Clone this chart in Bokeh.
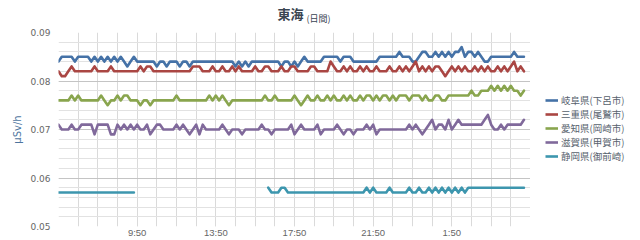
import numpy as np
from bokeh.plotting import figure
from bokeh.layouts import row
from bokeh.models import Legend, LegendItem, FixedTicker, Range1d, PrintfTickFormatter, Title
from bokeh.embed import file_html
from bokeh.resources import INLINE

nan = float("nan")

# Titles and axis texts
title_main = "東海"
title_sub = "(日間)"
y_title = "μSv/h"

# Time axis: readings every 10 minutes starting at 5:50
start_time = "5:50"
step_minutes = 10
span_hours = 24
tick_labels = ["9:50", "13:50", "17:50", "21:50", "1:50"]
y_ticks = [0.05, 0.06, 0.07, 0.08, 0.09]

stations = ["岐阜県(下呂市)", "三重県(尾鷲市)", "愛知県(岡崎市)", "滋賀県(甲賀市)", "静岡県(御前崎)"]

# Dose rates in μSv/h
gifu = [
    0.084, 0.085, 0.085, 0.085, 0.085, 0.084, 0.085, 0.085, 0.085, 0.085,
    0.084, 0.085, 0.084, 0.085, 0.084, 0.085, 0.084, 0.085, 0.084, 0.085,
    0.084, 0.083, 0.084, 0.085, 0.084, 0.084, 0.084, 0.084, 0.084, 0.084,
    0.083, 0.084, 0.084, 0.083, 0.084, 0.084, 0.084, 0.083, 0.084, 0.084,
    0.083, 0.084, 0.084, 0.084, 0.084, 0.084, 0.084, 0.084, 0.084, 0.084,
    0.084, 0.084, 0.084, 0.084, 0.083, 0.084, 0.083, 0.084, 0.083, 0.084,
    0.084, 0.084, 0.084, 0.084, 0.084, 0.084, 0.084, 0.084, 0.083, 0.084,
    0.084, 0.083, 0.084, 0.083, 0.084, 0.085, 0.084, 0.084, 0.084, 0.084,
    0.084, 0.085, 0.085, 0.085, 0.085, 0.085, 0.084, 0.085, 0.085, 0.085,
    0.084, 0.084, 0.084, 0.084, 0.084, 0.084, 0.084, 0.084, 0.085, 0.085,
    0.085, 0.085, 0.085, 0.085, 0.086, 0.085, 0.085, 0.085, 0.084, 0.084,
    0.085, 0.086, 0.086, 0.085, 0.085, 0.086, 0.085, 0.086, 0.085, 0.086,
    0.085, 0.086, 0.086, 0.087, 0.085, 0.086, 0.086, 0.085, 0.086, 0.085,
    0.084, 0.084, 0.085, 0.085, 0.085, 0.085, 0.085, 0.085, 0.085, 0.086,
    0.085, 0.085, 0.085,
]
mie = [
    0.082, 0.081, 0.081, 0.082, 0.083, 0.082, 0.082, 0.082, 0.082, 0.082,
    0.082, 0.083, 0.082, 0.082, 0.082, 0.082, 0.083, 0.082, 0.082, 0.082,
    0.082, 0.082, 0.082, 0.082, 0.082, 0.083, 0.082, 0.083, 0.083, 0.082,
    0.082, 0.082, 0.082, 0.082, 0.082, 0.082, 0.082, 0.082, 0.082, 0.082,
    0.082, 0.083, 0.083, 0.083, 0.082, 0.082, 0.082, 0.083, 0.082, 0.082,
    0.083, 0.082, 0.082, 0.083, 0.082, 0.083, 0.082, 0.082, 0.082, 0.082,
    0.083, 0.082, 0.082, 0.083, 0.083, 0.082, 0.082, 0.082, 0.083, 0.082,
    0.082, 0.083, 0.083, 0.082, 0.082, 0.082, 0.082, 0.083, 0.083, 0.082,
    0.082, 0.082, 0.082, 0.084, 0.083, 0.082, 0.082, 0.083, 0.082, 0.083,
    0.082, 0.082, 0.083, 0.082, 0.083, 0.082, 0.082, 0.083, 0.082, 0.082,
    0.082, 0.083, 0.082, 0.082, 0.083, 0.082, 0.083, 0.082, 0.083, 0.084,
    0.082, 0.083, 0.082, 0.083, 0.082, 0.083, 0.083, 0.082, 0.081, 0.082,
    0.083, 0.082, 0.083, 0.082, 0.083, 0.082, 0.082, 0.083, 0.082, 0.083,
    0.082, 0.083, 0.082, 0.082, 0.083, 0.082, 0.083, 0.082, 0.083, 0.084,
    0.082, 0.083, 0.082,
]
aichi = [
    0.076, 0.076, 0.076, 0.076, 0.077, 0.076, 0.077, 0.076, 0.076, 0.076,
    0.076, 0.076, 0.076, 0.077, 0.076, 0.075, 0.076, 0.076, 0.077, 0.076,
    0.077, 0.077, 0.076, 0.076, 0.076, 0.075, 0.076, 0.076, 0.075, 0.076,
    0.076, 0.076, 0.076, 0.076, 0.076, 0.076, 0.077, 0.076, 0.076, 0.076,
    0.076, 0.076, 0.076, 0.076, 0.076, 0.076, 0.077, 0.076, 0.077, 0.076,
    0.077, 0.076, 0.075, 0.076, 0.076, 0.076, 0.076, 0.076, 0.076, 0.076,
    0.076, 0.076, 0.076, 0.077, 0.076, 0.076, 0.077, 0.076, 0.076, 0.076,
    0.076, 0.076, 0.077, 0.076, 0.075, 0.076, 0.077, 0.076, 0.076, 0.077,
    0.076, 0.076, 0.077, 0.076, 0.077, 0.076, 0.076, 0.077, 0.076, 0.077,
    0.076, 0.076, 0.077, 0.076, 0.077, 0.077, 0.076, 0.077, 0.076, 0.077,
    0.077, 0.076, 0.077, 0.076, 0.077, 0.077, 0.077, 0.076, 0.077, 0.077,
    0.077, 0.076, 0.077, 0.076, 0.076, 0.077, 0.077, 0.076, 0.076, 0.077,
    0.077, 0.077, 0.077, 0.077, 0.077, 0.077, 0.078, 0.077, 0.077, 0.078,
    0.078, 0.078, 0.079, 0.078, 0.079, 0.078, 0.079, 0.078, 0.079, 0.078,
    0.078, 0.077, 0.078,
]
shiga = [
    0.071, 0.070, 0.070, 0.070, 0.071, 0.070, 0.070, 0.071, 0.071, 0.071,
    0.071, 0.069, 0.071, 0.071, 0.071, 0.071, 0.069, 0.069, 0.071, 0.070,
    0.071, 0.070, 0.071, 0.070, 0.071, 0.070, 0.070, 0.071, 0.069, 0.070,
    0.071, 0.071, 0.070, 0.070, 0.070, 0.070, 0.071, 0.070, 0.071, 0.070,
    0.069, 0.070, 0.071, 0.069, 0.071, 0.070, 0.070, 0.070, 0.070, 0.070,
    0.071, 0.070, 0.069, 0.070, 0.070, 0.070, 0.069, 0.070, 0.070, 0.070,
    0.070, 0.070, 0.071, 0.070, 0.070, 0.069, 0.070, 0.070, 0.070, 0.070,
    0.070, 0.071, 0.069, 0.070, 0.071, 0.070, 0.070, 0.070, 0.070, 0.071,
    0.069, 0.070, 0.070, 0.070, 0.070, 0.071, 0.070, 0.069, 0.070, 0.070,
    0.069, 0.070, 0.070, 0.070, 0.071, 0.070, 0.071, 0.069, 0.070, 0.070,
    0.070, 0.070, 0.070, 0.070, 0.070, 0.070, 0.070, 0.071, 0.070, 0.071,
    0.070, 0.069, 0.070, 0.071, 0.072, 0.070, 0.071, 0.071, 0.070, 0.072,
    0.070, 0.071, 0.072, 0.071, 0.071, 0.071, 0.071, 0.071, 0.071, 0.071,
    0.072, 0.073, 0.071, 0.070, 0.070, 0.071, 0.070, 0.071, 0.071, 0.071,
    0.071, 0.071, 0.072,
]
shizuoka = [
    0.057, 0.057, 0.057, 0.057, 0.057, 0.057, 0.057, 0.057, 0.057, 0.057,
    0.057, 0.057, 0.057, 0.057, 0.057, 0.057, 0.057, 0.057, 0.057, 0.057,
    0.057, 0.057, 0.057, 0.057, nan, nan, nan, nan, nan, nan,
    nan, nan, nan, nan, nan, nan, nan, nan, nan, nan,
    nan, nan, nan, nan, nan, nan, nan, nan, nan, nan,
    nan, nan, nan, nan, nan, nan, nan, nan, nan, nan,
    nan, nan, nan, nan, 0.058, 0.057, 0.057, 0.057, 0.058, 0.058,
    0.057, 0.057, 0.057, 0.057, 0.057, 0.057, 0.057, 0.057, 0.057, 0.057,
    0.057, 0.057, 0.057, 0.057, 0.057, 0.057, 0.057, 0.057, 0.057, 0.057,
    0.057, 0.057, 0.057, 0.057, 0.058, 0.057, 0.058, 0.057, 0.057, 0.057,
    0.057, 0.058, 0.057, 0.057, 0.057, 0.057, 0.057, 0.058, 0.057, 0.057,
    0.058, 0.057, 0.057, 0.058, 0.057, 0.058, 0.057, 0.058, 0.057, 0.058,
    0.057, 0.058, 0.057, 0.058, 0.057, 0.058, 0.058, 0.058, 0.058, 0.058,
    0.058, 0.058, 0.058, 0.058, 0.058, 0.058, 0.058, 0.058, 0.058, 0.058,
    0.058, 0.058, 0.058,
]

series = [gifu, mie, aichi, shiga, shizuoka]
colors = ["#4572A7", "#AA4643", "#89A54E", "#80699B", "#3D96AE"]

CJK = "Noto Sans CJK JP"
LATIN = "DejaVu Sans"
TITLE_COLOR = "#3a4552"

W, H = 640, 240
RIGHT = 110


def minutes(label):
    h, m = label.split(":")
    return int(h) * 60 + int(m)


def hours_after_start(label):
    return ((minutes(label) - minutes(start_time)) % 1440) / 60


tick_pos = [hours_after_start(s) for s in tick_labels]

# ---- main chart ----
p = figure(
    width=W - RIGHT, height=H, title=None,
    output_backend="svg", toolbar_location=None,
    x_range=Range1d(0, span_hours), y_range=Range1d(y_ticks[0], y_ticks[-1]),
    min_border_left=58, min_border_right=0, min_border_top=32, min_border_bottom=11,
    background_fill_color="white", border_fill_color="white",
)
p.outline_line_color = None

# Title on one line: both parts take no height of their own (large negative
# standoff), so they share the 32px top border and are lifted into place.
p.add_layout(Title(text=title_sub, align="left", offset=248, vertical_align="top",
                   text_font=CJK, text_font_size="9px", text_font_style="normal",
                   text_color=TITLE_COLOR, standoff=-41), "above")
p.add_layout(Title(text=title_main, align="left", offset=219, vertical_align="top",
                   text_font=CJK, text_font_size="13px", text_font_style="bold",
                   text_color=TITLE_COLOR, standoff=-58), "above")

# x axis: labelled every 4 hours, grid every hour
p.xaxis.ticker = FixedTicker(ticks=tick_pos, minor_ticks=list(range(0, span_hours + 1)))
p.xaxis.major_label_overrides = {pos: lab for pos, lab in zip(tick_pos, tick_labels)}
p.xaxis.axis_line_color = None
p.xaxis.major_tick_out = 0
p.xaxis.major_tick_in = 0
p.xaxis.minor_tick_out = 0
p.xaxis.minor_tick_in = 0
p.xaxis.major_label_standoff = 0
p.xaxis.major_label_text_line_height = 1.0
p.xaxis.major_label_text_font = "Liberation Sans"
p.xaxis.major_label_text_font_size = "9.5px"
p.xaxis.major_label_text_color = "#666666"

# y axis
p.yaxis.ticker = FixedTicker(ticks=y_ticks,
                             minor_ticks=[round(y_ticks[0] + 0.002 * k, 3) for k in range(21)])
p.yaxis.formatter = PrintfTickFormatter(format="%.2f")
p.yaxis.axis_line_color = None
p.yaxis.major_tick_out = 0
p.yaxis.major_tick_in = 0
p.yaxis.minor_tick_out = 0
p.yaxis.minor_tick_in = 0
p.yaxis.major_label_standoff = 8
p.yaxis.major_label_text_font = LATIN
p.yaxis.major_label_text_font_size = "9px"
p.yaxis.major_label_text_color = "#666666"
p.yaxis.axis_label = y_title
p.yaxis.axis_label_text_font = LATIN
p.yaxis.axis_label_text_font_size = "10px"
p.yaxis.axis_label_text_font_style = "normal"
p.yaxis.axis_label_text_color = "#4d759e"
p.yaxis.axis_label_standoff = 4

p.xgrid.grid_line_color = "#dadada"
p.xgrid.minor_grid_line_color = "#dadada"
p.ygrid.grid_line_color = "#c4c4c4"
p.ygrid.minor_grid_line_color = "#e2e2e2"

t = np.arange(len(gifu)) * step_minutes / 60

for vals, col in zip(series, colors):
    p.line(t, np.array(vals, dtype=float), line_color=col, line_width=2.6,
           line_join="round", line_cap="round")

# ---- legend column on the right ----
side = figure(width=RIGHT, height=H, title=None, output_backend="svg",
              toolbar_location=None, x_range=Range1d(0, 1), y_range=Range1d(0, 1),
              min_border=0, border_fill_color="white", background_fill_color="white")
side.axis.visible = False
side.grid.visible = False
side.outline_line_color = None

items = []
for name, col in zip(stations, colors):
    # swatch-only renderer: its points sit outside the visible range
    r = side.line(x=[-1, -1], y=[-1, -1], line_color=col, line_width=2.6)
    items.append(LegendItem(label=name, renderers=[r]))

legend = Legend(
    items=items, location=(15, 63),
    label_text_font=CJK, label_text_font_size="9.5px", label_text_color="#56616c",
    glyph_width=13, glyph_height=10, label_height=10, label_standoff=3,
    spacing=0, padding=0, margin=0,
    border_line_color=None, background_fill_alpha=0,
)
side.add_layout(legend)

layout = row(p, side, spacing=0)
open("out.html", "w").write(file_html(layout, INLINE))
